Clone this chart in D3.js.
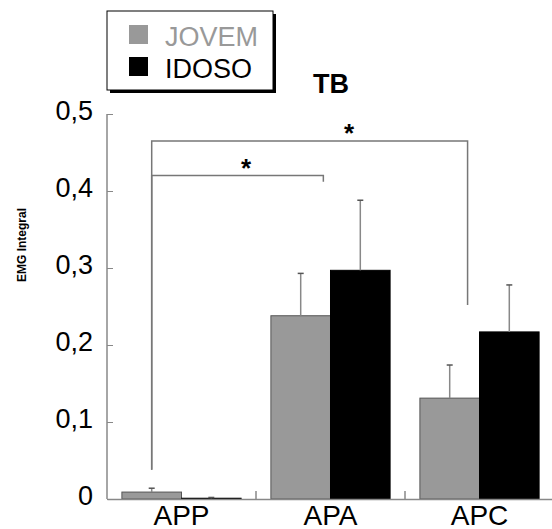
<!DOCTYPE html>
<html lang="pt">
<head>
  <meta charset="UTF-8" />
  <title>TB</title>
  <script src="https://cdn.jsdelivr.net/npm/d3@7"></script>
  <style>
    body { margin: 0; background: #fff; }
    svg { font-family: "Liberation Sans", Arial, sans-serif; }
  </style>
</head>
<body>
<script>
  const width = 552;
  const height = 529;

  // data
  const categories = ["APP", "APA", "APC"];
  const groups = ["JOVEM", "IDOSO"];
  const jovemMean = [0.009, 0.238, 0.131];
  const jovemErr  = [0.005, 0.055, 0.043];
  const idosoMean = [0.001, 0.297, 0.217];
  const idosoErr  = [0.001, 0.091, 0.061];
  const yTicks = [0, 0.1, 0.2, 0.3, 0.4, 0.5];
  const yTickLabels = ["0", "0,1", "0,2", "0,3", "0,4", "0,5"];

  // significance brackets: from category/group centre to a point inside another band
  const brackets = [
    { from: "APP", to: "APA", toFrac: 0.44, top: 0.420, leftEnd: 0.038, rightEnd: 0.412, starFrac: 0.55 },
    { from: "APP", to: "APC", toFrac: 0.40, top: 0.465, leftEnd: 0.038, rightEnd: 0.252, starFrac: 0.625 }
  ];

  const colors = { JOVEM: "#999999", IDOSO: "#000000" };

  const margin = { top: 114, right: -2, bottom: 30, left: 107 };

  const svg = d3.select("body").append("svg")
    .attr("width", width)
    .attr("height", height);

  const g = svg.append("g").attr("transform", `translate(${margin.left},0)`);

  const x = d3.scaleBand()
    .domain(categories)
    .range([0, width - margin.left - margin.right])
    .paddingInner(0.2)
    .paddingOuter(0.1);

  const xs = d3.scaleBand().domain(groups).range([0, x.bandwidth()]);

  const y = d3.scaleLinear().domain([0, 0.5]).range([499, 114]);

  const rows = categories.map((c, i) => ({
    cat: c,
    vals: [
      { grp: "JOVEM", v: jovemMean[i], e: jovemErr[i] },
      { grp: "IDOSO", v: idosoMean[i], e: idosoErr[i] }
    ]
  }));

  // brackets (drawn first so the bars sit on top)
  const center = (c, grp) => x(c) + xs(grp) + xs.bandwidth() / 2;
  brackets.forEach(b => {
    const x0 = center(b.from, "JOVEM");
    const x1 = x(b.to) + b.toFrac * x.bandwidth();
    g.append("path")
      .attr("d", `M${x0},${y(b.leftEnd)}V${y(b.top)}H${x1}V${y(b.rightEnd)}`)
      .attr("fill", "none")
      .attr("stroke", "#777")
      .attr("stroke-width", 1.5);
    g.append("text")
      .attr("x", x0 + (x1 - x0) * b.starFrac)
      .attr("y", y(b.top) + 1)
      .attr("text-anchor", "middle")
      .attr("font-size", 26)
      .attr("font-weight", "bold")
      .text("*");
  });

  // bars
  const cat = g.selectAll(".cat").data(rows).join("g")
    .attr("transform", d => `translate(${x(d.cat)},0)`);

  cat.selectAll("rect").data(d => d.vals).join("rect")
    .attr("x", d => xs(d.grp))
    .attr("width", xs.bandwidth())
    .attr("y", d => y(d.v))
    .attr("height", d => y(0) - y(d.v))
    .attr("fill", d => colors[d.grp])
    .attr("stroke", d => d.grp === "JOVEM" ? "#555" : "#000")
    .attr("stroke-width", 1);

  // error bars
  const eb = cat.selectAll(".err").data(d => d.vals).join("g").attr("class", "err");
  eb.append("line")
    .attr("x1", d => xs(d.grp) + xs.bandwidth() / 2)
    .attr("x2", d => xs(d.grp) + xs.bandwidth() / 2)
    .attr("y1", d => y(d.v))
    .attr("y2", d => y(d.v + d.e))
    .attr("stroke", "#888")
    .attr("stroke-width", 1.5);
  eb.append("line")
    .attr("x1", d => xs(d.grp) + xs.bandwidth() / 2 - 3)
    .attr("x2", d => xs(d.grp) + xs.bandwidth() / 2 + 3)
    .attr("y1", d => y(d.v + d.e))
    .attr("y2", d => y(d.v + d.e))
    .attr("stroke", "#555")
    .attr("stroke-width", 1.5);

  // y axis
  const yAxis = g.append("g")
    .call(d3.axisLeft(y).tickValues(yTicks)
      .tickFormat((d, i) => yTickLabels[i])
      .tickSize(-6).tickPadding(14));
  yAxis.select(".domain").attr("stroke", "#888").attr("stroke-width", 1.5).attr("d", `M0,${y(0.5)}V${y(0)}`);
  yAxis.selectAll(".tick line").attr("stroke", "#888");
  yAxis.selectAll("text")
    .attr("font-size", 27)
    .attr("dy", "0.2em")
    .attr("fill", "#000");

  // x axis
  const xAxis = g.append("g").attr("transform", `translate(0,${y(0)})`)
    .call(d3.axisBottom(x).tickSize(0).tickPadding(6));
  xAxis.select(".domain").attr("stroke", "#888").attr("stroke-width", 1.5);
  xAxis.selectAll("text").attr("font-size", 28).attr("fill", "#000");

  // small separators between categories
  const seps = categories.slice(1).map(c => x(c) - x.step() * x.paddingInner() / 2);
  g.selectAll(".sep").data(seps).join("line")
    .attr("x1", d => d).attr("x2", d => d)
    .attr("y1", y(0)).attr("y2", y(0) - 8)
    .attr("stroke", "#888").attr("stroke-width", 1.5);

  // y label
  svg.append("text")
    .attr("transform", "translate(26,245) rotate(-90)")
    .attr("text-anchor", "middle")
    .attr("font-size", 13)
    .attr("font-weight", "bold")
    .attr("textLength", 74)
    .attr("lengthAdjust", "spacingAndGlyphs")
    .text("EMG Integral");

  // title
  svg.append("text")
    .attr("x", 331).attr("y", 93)
    .attr("text-anchor", "middle")
    .attr("font-size", 27)
    .attr("font-weight", "bold")
    .text("TB");

  // legend
  const leg = svg.append("g").attr("transform", "translate(107,11)");
  leg.append("rect").attr("x", 3).attr("y", 3).attr("width", 166).attr("height", 79).attr("fill", "#000");
  leg.append("rect").attr("width", 166).attr("height", 79).attr("fill", "#fff").attr("stroke", "#000").attr("stroke-width", 1);
  const li = leg.selectAll(".li").data(groups).join("g")
    .attr("transform", (d, i) => `translate(22,${14 + i * 32})`);
  li.append("rect").attr("width", 19).attr("height", 19).attr("fill", d => colors[d]);
  li.append("text")
    .attr("x", 36).attr("y", 21)
    .attr("font-size", 27)
    .attr("fill", d => colors[d])
    .text(d => d);
</script>
</body>
</html>
